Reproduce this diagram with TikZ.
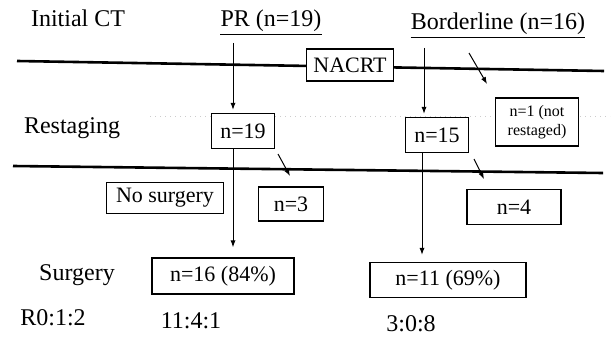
\documentclass[tikz,border=0pt]{standalone}
\usepackage{fontspec}
\setmainfont{Liberation Serif}
\usetikzlibrary{arrows.meta}

\begin{document}
\begin{tikzpicture}[x=0.5pt,y=-0.5pt,
		box/.style={draw,line width=0.7pt,fill=white,inner sep=0pt,font=\fontsize{11}{13}\selectfont},
		lbl/.style={inner sep=0pt,font=\fontsize{12}{14}\selectfont},
		arr/.style={-{Latex[length=3.5pt,width=2.6pt]},line width=0.5pt},
		sep/.style={line width=1.3pt}]
		\useasboundingbox (0,0) rectangle (613,336);
		% coordinates
		\coordinate (L1a) at (17,61);
		\coordinate (L1b) at (604,71);
		\coordinate (L2a) at (13,166);
		\coordinate (L2b) at (603,173);
		\coordinate (D1) at (150,117);
		\coordinate (D2) at (610,117);
		% separating lines
		\draw[sep] (L1a) -- (L1b);
		\draw[sep] (L2a) -- (L2b);
		\draw[gray!40,dotted,line width=0.5pt] (D1) -- (D2);
		% row labels
		\node[lbl] (ct)   at (78,18)  {Initial CT};
		\node[lbl] (rst)  at (72,128) {Restaging};
		\node[lbl] (surg) at (77,275) {Surgery};
		\node[lbl] (r0)   at (53,318) {R0:1:2};
		% column heads
		\node[lbl] (pr) at (271,21) {PR (n=19)};
		\node[lbl] (bl) at (498,24) {Borderline (n=16)};
		\foreach \h in {pr,bl}
		\draw[line width=0.6pt] ([yshift=-1.2pt]\h.south west) -- ([yshift=-1.2pt]\h.south east);
		% boxes
		\node[box,minimum width=43.5pt,minimum height=16pt] (nacrt) at (350,65) {NACRT};
		\node[box,minimum width=31.5pt,minimum height=17.5pt] (n19) at (243,131) {n=19};
		\node[box,minimum width=31.5pt,minimum height=17.5pt] (n15) at (437,135) {n=15};
		\node[box,minimum width=41.5pt,minimum height=24pt,align=center,
			font=\fontsize{8}{9.5}\selectfont] (n1) at (537,122) {n=1 (not\\restaged)};
		\node[box,minimum width=58.5pt,minimum height=15.5pt] (nosurg) at (165,198) {No surgery};
		\node[box,minimum width=32.5pt,minimum height=17pt] (n3) at (291,204) {n=3};
		\node[box,minimum width=47pt,minimum height=17.5pt] (n4) at (514,207) {n=4};
		\node[box,minimum width=71pt,minimum height=18pt] (n16) at (223,276) {n=16 (84\%)};
		\node[box,minimum width=78pt,minimum height=17.5pt] (n11) at (448,280) {n=11 (69\%)};
		% ratios
		\node[lbl] (r16) at (191,321) {11:4:1};
		\node[lbl] (r11) at (411,324) {3:0:8};
		% arrows
		\coordinate (PRtop) at (233,43);
		\coordinate (BLtop) at (424,48);
		\draw[arr,shorten >=1.5pt] (PRtop) -- (PRtop |- n19.north);
		\draw[arr,shorten >=1.5pt] (BLtop) -- (BLtop |- n15.north);
		\draw[arr,shorten >=5pt] (n19.south -| PRtop) -- (n16.north -| PRtop);
		\draw[arr,shorten >=3.5pt] (n15.south -| 422,0) -- (n11.north -| 422,0);
		% side arrows
		\coordinate (S1) at (469,53);  \coordinate (E1) at (487,84);
		\coordinate (S2) at (278,154); \coordinate (E2) at (290,176);
		\coordinate (S3) at (474,159); \coordinate (E3) at (484,179);
		\foreach \i in {1,2,3}
		\draw[arr] (S\i) -- (E\i);
	\end{tikzpicture}
\end{document}
